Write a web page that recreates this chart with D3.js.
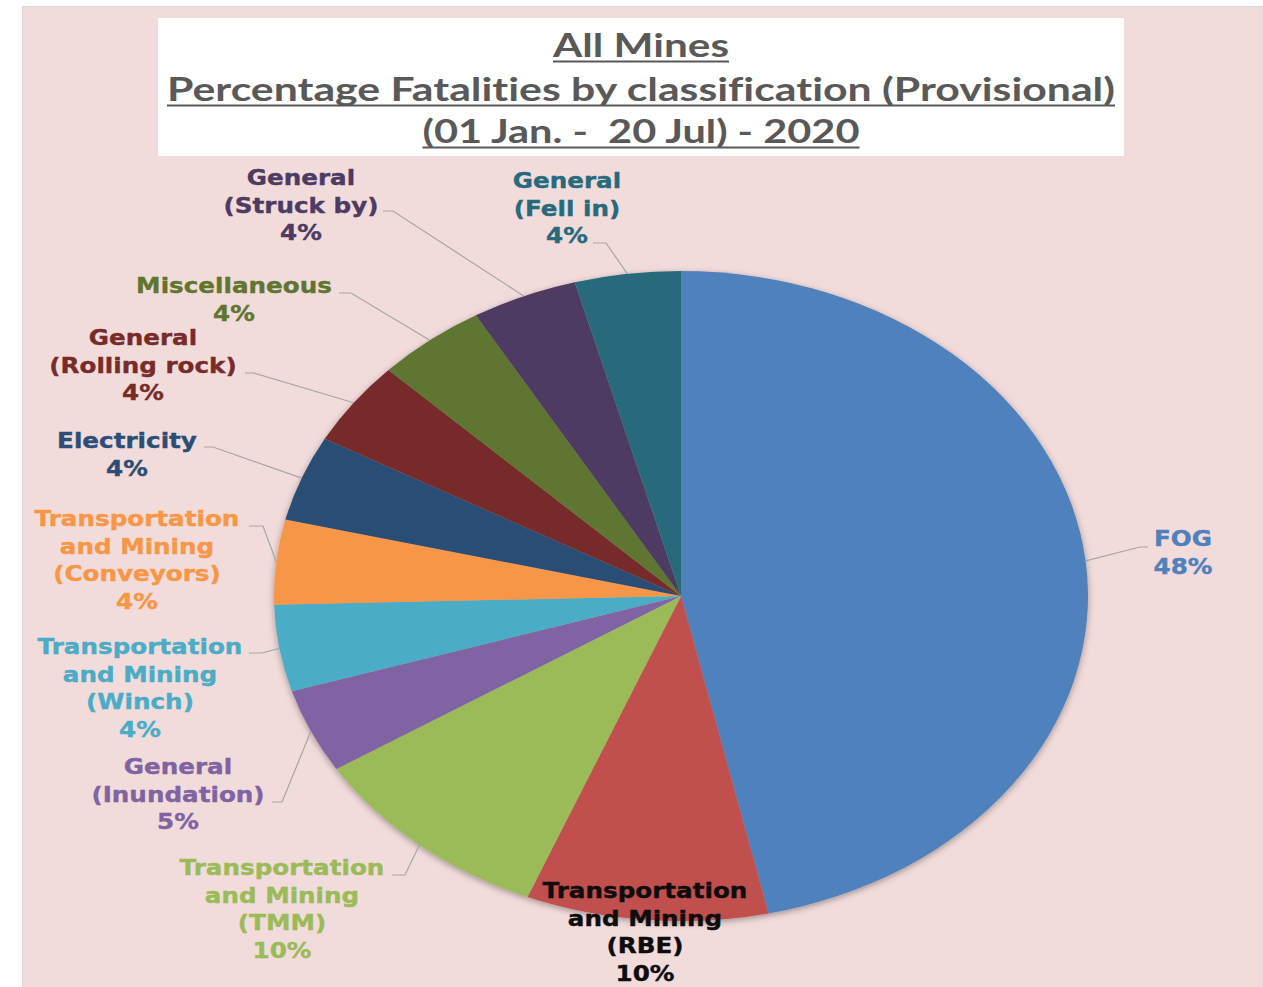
<!DOCTYPE html>
<html>
<head>
<meta charset="utf-8">
<script src="https://cdn.jsdelivr.net/npm/d3@7"></script>
<style>
  html, body { margin: 0; padding: 0; background: #fff; }
  svg { display: block; }
  .title { font-family: Lato, 'Open Sans', sans-serif; font-weight: bold; fill: #595959; white-space: pre; font-variant-ligatures: none; }
  .lbl { font-family: 'DejaVu Sans', Verdana, sans-serif; font-weight: bold; }
</style>
</head>
<body>
<svg id="chart" width="1263" height="987"></svg>
<script>
// slices, clockwise from 12 o'clock
const categories = [
  'FOG',
  'Transportation|and Mining|(RBE)',
  'Transportation|and Mining|(TMM)',
  'General|(Inundation)',
  'Transportation|and Mining|(Winch)',
  'Transportation|and Mining|(Conveyors)',
  'Electricity',
  'General|(Rolling rock)',
  'Miscellaneous',
  'General|(Struck by)',
  'General|(Fell in)'
];
const shares = [46.5, 9.6, 9.9, 4.2, 4.3, 4.2, 4.25, 4.2, 4.35, 4.2, 4.2];
const pctLabels = ['48%', '10%', '10%', '5%', '4%', '4%', '4%', '4%', '4%', '4%', '4%'];
const titleLines = ['All Mines', 'Percentage Fatalities by classification (Provisional)', '(01 Jan. -  20 Jul) - 2020'];

const colors = ['#4f81bd', '#c0504d', '#9bbb59', '#8064a2', '#4bacc6', '#f79646',
  '#2c4d75', '#772c2a', '#5f7530', '#4d3b62', '#276a7c'];
const labelColors = colors.map((c, i) => i == 1 ? '#0d0d0d' : c);

// label placement (manually dragged in the original): centre x, first baseline, leader [start, elbow, y]
const labelLayout = [
  { x: 1183, y: 546, lead: [1148, 1140, 547] },
  { x: 645, y: 898, lead: null },
  { x: 282, y: 875, lead: [392, 405, 875] },
  { x: 178, y: 774, lead: [272, 282, 802] },
  { x: 140, y: 654, lead: [249, 262, 653] },
  { x: 137, y: 526, lead: [249, 263, 526] },
  { x: 127, y: 448, lead: [204, 213, 447] },
  { x: 143, y: 345, lead: [245, 254, 373] },
  { x: 234, y: 293, lead: [339, 351, 293] },
  { x: 301, y: 185, lead: [383, 393, 211] },
  { x: 567, y: 188, lead: [593, 606, 243] }
];

const svg = d3.select('#chart');
const cx = 681, cy = 596, rx = 407, ry = 325;
const sx = rx / ry;

// background panel
svg.append('rect')
  .attr('x', 22.5).attr('y', 6.5)
  .attr('width', 1240).attr('height', 990)
  .attr('fill', '#f2dcdb')
  .attr('stroke', '#d9d9d9');

// title box
svg.append('rect')
  .attr('x', 158).attr('y', 18)
  .attr('width', 966).attr('height', 138)
  .attr('fill', '#fff');

const titleSpec = [
  { y: 57, w: 176 },
  { y: 101, w: 948 },
  { y: 143, w: 437 }
];
const title = svg.append('g');
title.selectAll('text')
  .data(titleLines)
  .enter().append('text')
    .attr('class', 'title')
    .attr('x', 641)
    .attr('y', (d, i) => titleSpec[i].y)
    .attr('text-anchor', 'middle')
    .attr('font-size', 32)
    .attr('textLength', (d, i) => titleSpec[i].w)
    .attr('lengthAdjust', 'spacingAndGlyphs')
    .text(d => d);
// underlines
title.selectAll('line')
  .data(titleSpec)
  .enter().append('line')
    .attr('x1', d => 641 - d.w / 2)
    .attr('x2', d => 641 + d.w / 2)
    .attr('y1', d => d.y + 4.5)
    .attr('y2', d => d.y + 4.5)
    .attr('stroke', '#595959')
    .attr('stroke-width', 2);

const defs = svg.append('defs');
const shadow = defs.append('filter').attr('id', 'shadow')
  .attr('x', '-10%').attr('y', '-10%').attr('width', '120%').attr('height', '120%');
shadow.append('feDropShadow')
  .attr('dx', 0).attr('dy', 2)
  .attr('stdDeviation', 3)
  .attr('flood-color', '#000')
  .attr('flood-opacity', 0.35);

const pie = d3.pie().sort(null).value(d => d);
const arcs = pie(shares);
const arc = d3.arc().innerRadius(0).outerRadius(ry);
const edge = d3.arc().innerRadius(ry).outerRadius(ry);

svg.append('g')
  .attr('transform', `translate(${cx},${cy}) scale(${sx},1)`)
  .attr('filter', 'url(#shadow)')
  .selectAll('path')
  .data(arcs)
  .enter().append('path')
    .attr('d', arc)
    .attr('fill', (d, i) => colors[i]);

// leader lines
svg.append('g').selectAll('polyline')
  .data(arcs.filter((d, i) => labelLayout[i].lead))
  .enter().append('polyline')
    .attr('fill', 'none')
    .attr('stroke', '#a6a6a6')
    .attr('stroke-width', 1.2)
    .attr('points', d => {
      const l = labelLayout[d.index].lead;
      const c = edge.centroid(d);
      return [[l[0], l[2]], [l[1], l[2]], [cx + c[0] * sx, cy + c[1]]].map(p => p.join(',')).join(' ');
    });

// data labels
const lineH = 27.7;
const label = svg.append('g').selectAll('g')
  .data(categories)
  .enter().append('g')
    .attr('transform', (d, i) => `translate(${labelLayout[i].x},${labelLayout[i].y}) scale(1.12,1)`);
label.append('text')
  .attr('class', 'lbl')
  .attr('text-anchor', 'middle')
  .attr('font-size', 22)
  .attr('fill', (d, i) => labelColors[i])
  .attr('stroke', (d, i) => labelColors[i])
  .attr('stroke-width', 0.4)
  .selectAll('tspan')
  .data((d, i) => d.split('|').concat([pctLabels[i]]))
  .enter().append('tspan')
    .attr('x', 0)
    .attr('y', (d, j) => j * lineH)
    .text(d => d);
</script>
</body>
</html>
